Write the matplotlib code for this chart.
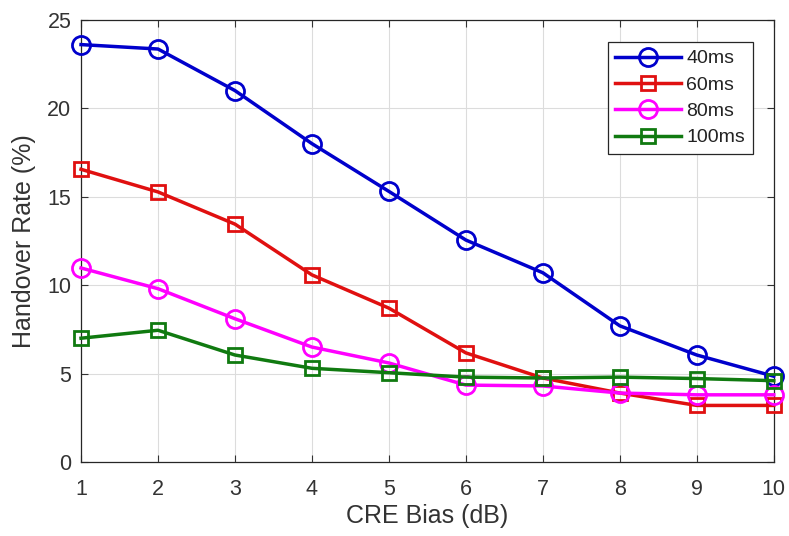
import matplotlib
matplotlib.use("Agg")
import matplotlib.pyplot as plt

plt.rcParams['font.family'] = ['Liberation Sans', 'DejaVu Sans']

cre_bias = [1, 2, 3, 4, 5, 6, 7, 8, 9, 10]
rate_40ms = [23.6, 23.35, 21.0, 18.0, 15.3, 12.55, 10.7, 7.7, 6.05, 4.85]
rate_60ms = [16.55, 15.27, 13.45, 10.58, 8.7, 6.17, 4.75, 3.9, 3.2, 3.2]
rate_80ms = [10.97, 9.8, 8.1, 6.5, 5.6, 4.35, 4.3, 3.9, 3.8, 3.8]
rate_100ms = [7.0, 7.45, 6.05, 5.3, 5.05, 4.8, 4.75, 4.8, 4.72, 4.6]

series = [
    ("40ms", rate_40ms, "#0000CC", "o", 13),
    ("60ms", rate_60ms, "#E01010", "s", 10),
    ("80ms", rate_80ms, "#FF00FF", "o", 13),
    ("100ms", rate_100ms, "#107A10", "s", 10),
]

txt = '#333333'

fig = plt.figure(figsize=(7.89, 5.36), dpi=100)
ax = fig.add_axes([0.1027, 0.138, 0.878, 0.825])

for label, vals, color, marker, ms in series:
    ax.plot(cre_bias, vals, color=color, lw=2.5, marker=marker, ms=ms,
            mfc='none', mec=color, mew=2.0, label=label, clip_on=False,
            zorder=3)

ax.set_xlim(1, 10)
ax.set_ylim(0, 25)
ax.set_xticks(range(1, 11))
ax.set_yticks([0, 5, 10, 15, 20, 25])
ax.grid(True, color='#dcdcdc', lw=0.8)
ax.set_axisbelow(True)
ax.tick_params(direction='in', top=True, right=True, labelsize=15.5,
               colors=txt, length=5)
ax.tick_params(axis='x', pad=12)
ax.tick_params(axis='y', pad=7)
for s in ax.spines.values():
    s.set_color('#262626')
    s.set_linewidth(0.9)

ax.set_xlabel("CRE Bias (dB)", fontsize=18, color=txt, labelpad=3)
ax.set_ylabel("Handover Rate (%)", fontsize=18, color=txt, labelpad=8)

leg = ax.legend(loc='upper right', bbox_to_anchor=(0.9697, 0.950), fontsize=14,
                frameon=True, fancybox=False, edgecolor='#262626',
                handlelength=3.4, borderpad=0.4, labelspacing=0.45,
                handletextpad=0.25, borderaxespad=0, framealpha=1)
leg.get_frame().set_linewidth(0.9)
for t in leg.get_texts():
    t.set_color('#222222')

fig.savefig("out.png", dpi=100)
